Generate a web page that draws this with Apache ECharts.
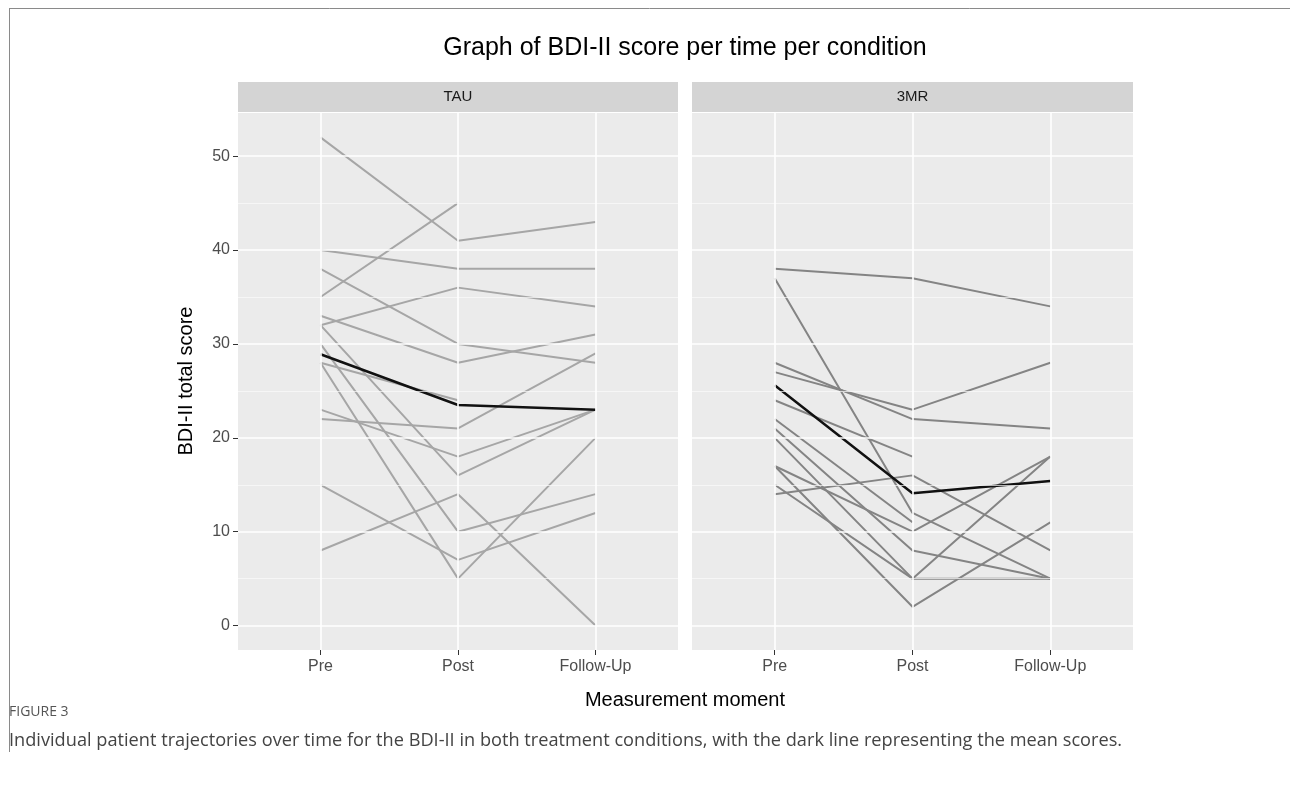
<!DOCTYPE html>
<html><head><meta charset="utf-8">
<script src="https://cdn.jsdelivr.net/npm/echarts@6/dist/echarts.min.js"></script>
<style>html,body{margin:0;padding:0;background:#fff}#c{width:1290px;height:792px}</style>
</head><body><div id="c"></div>
<script>
// ---- data ----
const TIMEPOINTS = ['Pre', 'Post', 'Follow-Up'];
const PANELS = ['TAU', '3MR'];
const Y_TICKS = [0, 10, 20, 30, 40, 50];
const Y_MINOR = [5, 15, 25, 35, 45];
const TAU_PATIENTS = [
  [52, 41, 43], [35, 45, null], [40, 38, 38], [38, 30, 28], [33, 28, 31],
  [32, 36, 34], [32, 16, 23], [30, 10, 14], [28, 5, 20], [28, 24, null],
  [23, 18, 23], [22, 21, 29], [15, 7, 12], [8, 14, 0]
];
const TAU_MEAN = [28.9, 23.5, 23.0];
const MR_PATIENTS = [
  [38, 37, 34], [37, 12, 5], [28, 22, 21], [27, 23, 28], [24, 18, null],
  [22, 11, null], [21, 8, 5], [20, 5, 18], [17, 10, 18], [17, 2, 11],
  [15, 5, 5], [14, 16, 8]
];
const MR_MEAN = [25.6, 14.1, 15.4];
const TITLE = 'Graph of BDI-II score per time per condition';
const X_NAME = 'Measurement moment';
const Y_NAME = 'BDI-II total score';
const FIG_LABEL = 'FIGURE 3';
const CAPTION = 'Individual patient trajectories over time for the BDI-II in both treatment conditions, with the dark line representing the mean scores.';

// ---- chart ----
const FONT = '"Liberation Sans", Arial, sans-serif';
const chart = echarts.init(document.getElementById('c'), null, {renderer: 'canvas'});
const X_IDX = TIMEPOINTS.map((_, i) => i);

function toPoints(vals) {
  return vals.map((v, i) => v == null ? null : [i, v]).filter(p => p);
}

const grids = [
  {left: 238, top: 113, width: 440, height: 537},
  {left: 692, top: 113, width: 441, height: 537}
];
grids.forEach(g => { g.show = true; g.backgroundColor = '#ebebeb'; g.borderWidth = 0; });

const xAxes = [0, 1].map(gi => ({
  type: 'value', gridIndex: gi, min: -0.6, max: 2.6, position: 'bottom',
  splitLine: {show: false}, axisLine: {show: false, onZero: false},
  axisTick: {show: true, customValues: X_IDX, length: 5, lineStyle: {color: '#333', width: 1}},
  axisLabel: {customValues: X_IDX, formatter: v => TIMEPOINTS[Math.round(v)] || '',
    color: '#4d4d4d', fontSize: 16, fontFamily: FONT, margin: 9}
}));
const yAxes = [0, 1].map(gi => ({
  type: 'value', gridIndex: gi, min: -2.6, max: 54.6, position: 'left',
  splitLine: {show: false}, axisLine: {show: false, onZero: false},
  axisTick: {show: gi === 0, customValues: Y_TICKS, length: 5, lineStyle: {color: '#333', width: 1}},
  axisLabel: {show: gi === 0, customValues: Y_TICKS, color: '#4d4d4d', fontSize: 16, fontFamily: FONT, margin: 8}
}));

const series = [];
[0, 1].forEach(gi => {
  const ml = [];
  Y_MINOR.forEach(v => ml.push({yAxis: v, lineStyle: {color: '#fafafa', width: 0.7, type: 'solid'}}));
  Y_TICKS.forEach(v => ml.push({yAxis: v, lineStyle: {color: '#ffffff', width: 1.6, type: 'solid'}}));
  X_IDX.forEach(v => ml.push({xAxis: v, lineStyle: {color: '#ffffff', width: 1.6, type: 'solid'}}));
  series.push({
    type: 'line', xAxisIndex: gi, yAxisIndex: gi, data: [], z: 1, silent: true,
    markLine: {silent: true, symbol: ['none', 'none'], label: {show: false}, animation: false, data: ml}
  });
});
TAU_PATIENTS.forEach(p => series.push({
  type: 'line', xAxisIndex: 0, yAxisIndex: 0, data: toPoints(p), symbol: 'none', z: 3,
  lineStyle: {color: '#a6a6a6', width: 2}, animation: false
}));
MR_PATIENTS.forEach(p => series.push({
  type: 'line', xAxisIndex: 1, yAxisIndex: 1, data: toPoints(p), symbol: 'none', z: 3,
  lineStyle: {color: '#848484', width: 2}, animation: false
}));
series.push({type: 'line', xAxisIndex: 0, yAxisIndex: 0, data: toPoints(TAU_MEAN), symbol: 'none', z: 4,
  lineStyle: {color: '#111', width: 2.5}, animation: false});
series.push({type: 'line', xAxisIndex: 1, yAxisIndex: 1, data: toPoints(MR_MEAN), symbol: 'none', z: 4,
  lineStyle: {color: '#111', width: 2.5}, animation: false});

const graphic = [
  // figure frame
  {type: 'line', shape: {x1: 9.5, y1: 8, x2: 9.5, y2: 752}, style: {stroke: '#8a8a8a', lineWidth: 1}},
  {type: 'line', shape: {x1: 9, y1: 8.5, x2: 1290, y2: 8.5}, style: {stroke: '#8a8a8a', lineWidth: 1}},
  {type: 'text', x: 685, y: 48, style: {text: TITLE, font: '25px ' + FONT, fill: '#000', align: 'center', verticalAlign: 'middle'}},
  {type: 'text', x: 685, y: 700, style: {text: X_NAME, font: '20px ' + FONT, fill: '#000', align: 'center', verticalAlign: 'middle'}},
  {type: 'text', x: 186, y: 381, rotation: Math.PI / 2, style: {text: Y_NAME, font: '20px ' + FONT, fill: '#000', align: 'center', verticalAlign: 'middle'}},
  {type: 'text', x: 9, y: 712, style: {text: FIG_LABEL, font: '14px "Open Sans", sans-serif', fill: '#555', align: 'left', verticalAlign: 'middle'}},
  {type: 'text', x: 9, y: 741, scaleX: 1.01, style: {text: CAPTION, font: '18px "Open Sans", sans-serif', fill: '#444', align: 'left', verticalAlign: 'middle'}}
];
PANELS.forEach((name, i) => {
  const g = grids[i];
  graphic.push({type: 'rect', shape: {x: g.left, y: 82, width: g.width, height: 30}, style: {fill: '#d4d4d4'}});
  graphic.push({type: 'text', x: g.left + g.width / 2, y: 97, style: {text: name, font: '15px ' + FONT, fill: '#1a1a1a', align: 'center', verticalAlign: 'middle'}});
});

chart.setOption({
  animation: false,
  backgroundColor: '#ffffff',
  grid: grids, xAxis: xAxes, yAxis: yAxes, series: series, graphic: graphic
});
</script></body></html>
